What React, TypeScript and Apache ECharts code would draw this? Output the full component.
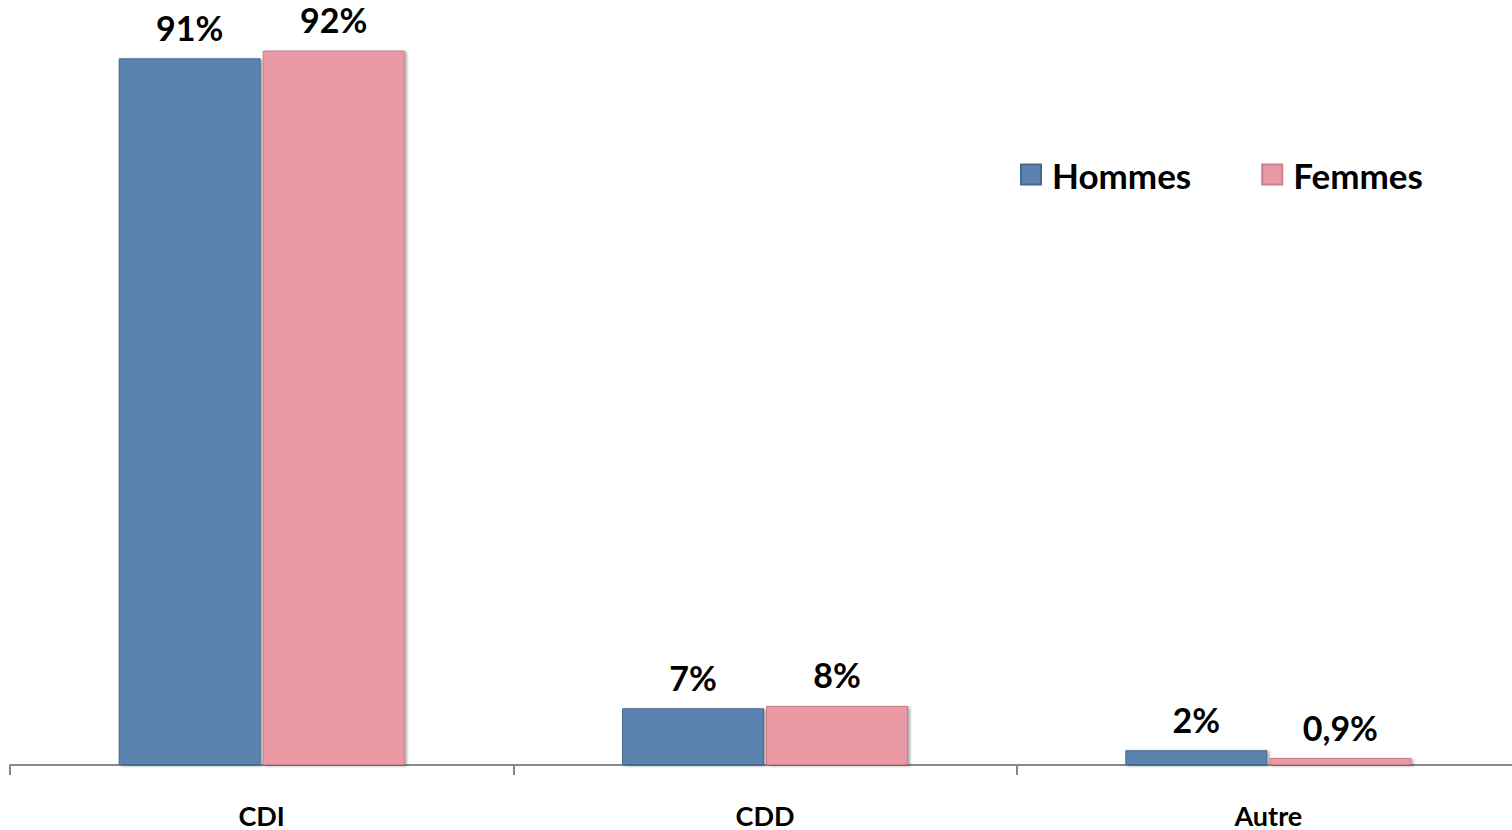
import React, { useEffect, useRef } from "react";
import * as echarts from "echarts";

const categories = ["CDI", "CDD", "Autre"];
const hommes = [91, 7.3, 1.9];
const femmes = [92, 7.6, 0.9];
const hommesLabels = ["91%", "7%", "2%"];
const femmesLabels = ["92%", "8%", "0,9%"];
const seriesNames = ["Hommes", "Femmes"];

const FONT = "Lato, 'Open Sans', sans-serif";

export default function App() {
  const ref = useRef<HTMLDivElement>(null);
  useEffect(() => {
    if (!ref.current) return;
    const chart = echarts.init(ref.current, null, { renderer: "svg" });
    const labelStyle = (labels: string[]) => ({
      show: true,
      position: "top" as const,
      distance: 14,
      fontFamily: FONT,
      fontWeight: "bold" as const,
      fontSize: 34,
      color: "#000",
      formatter: (p: any) => labels[p.dataIndex],
    });
    chart.setOption({
      animation: false,
      backgroundColor: "#fff",
      grid: {
        left: 10,
        top: 4,
        width: 1510,
        height: 761,
        outerBoundsMode: "none",
        containLabel: false,
      },
      legend: {
        left: 1015,
        top: 152,
        itemWidth: 20,
        itemHeight: 20,
        itemGap: 70,
        icon: "rect",
        textStyle: {
          fontFamily: FONT,
          fontWeight: "bold",
          fontSize: 35,
          color: "#000",
          padding: [0, 0, 0, 6],
        },
        data: seriesNames,
      },
      xAxis: {
        type: "category",
        data: categories,
        axisLine: { lineStyle: { color: "#888", width: 2 } },
        axisTick: { show: true, length: 10, lineStyle: { color: "#888", width: 2 } },
        axisLabel: {
          margin: 36,
          fontFamily: FONT,
          fontWeight: "bold",
          fontSize: 27,
          lineHeight: 28,
          color: "#000",
        },
      },
      yAxis: {
        type: "value",
        min: 0,
        max: 98,
        show: false,
        splitLine: { show: false },
      },
      series: [
        {
          name: seriesNames[0],
          type: "bar",
          data: hommes,
          barWidth: 142,
          barGap: "1.4%",
          itemStyle: {
            color: "#5b82b0",
            borderColor: "#45688f",
            borderWidth: 1,
            shadowColor: "rgba(0,0,0,0.35)",
            shadowBlur: 3,
            shadowOffsetX: 2,
            shadowOffsetY: 1,
          },
          label: labelStyle(hommesLabels),
        },
        {
          name: seriesNames[1],
          type: "bar",
          data: femmes,
          barWidth: 142,
          itemStyle: {
            color: "#ea9aa4",
            borderColor: "#c77f89",
            borderWidth: 1,
            shadowColor: "rgba(0,0,0,0.35)",
            shadowBlur: 3,
            shadowOffsetX: 2,
            shadowOffsetY: 1,
          },
          label: labelStyle(femmesLabels),
        },
      ],
    });
    return () => chart.dispose();
  }, []);
  return (
    <div
      ref={ref}
      style={{ position: "fixed", left: 0, top: 0, width: 1512, height: 830 }}
    />
  );
}
